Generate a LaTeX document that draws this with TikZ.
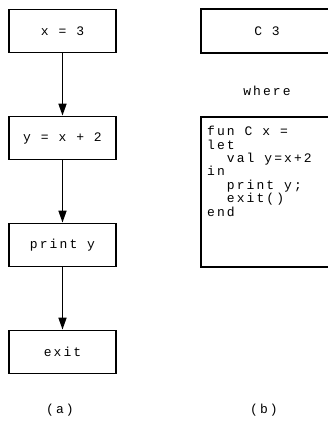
\documentclass[tikz,border=0pt]{standalone}
\usepackage{fontspec}
\setmonofont[LetterSpace=16]{Liberation Mono}
\usetikzlibrary{arrows.meta}
\begin{document}
\begin{tikzpicture}[x=1pt,y=-1pt,
  font=\ttfamily\fontsize{13}{13.4}\selectfont,
  box/.style={draw, line width=1.8pt, minimum width=107pt, minimum height=43pt, inner sep=0pt},
  wbox/.style={draw, line width=1.8pt, minimum width=131pt, inner sep=0pt},
  flow/.style={-{Triangle[length=12pt,width=8pt]}, line width=1.6pt}]
\useasboundingbox (0,0) rectangle (328,421);
\clip (0,0) rectangle (328,421);
\node[box] (a1) at (62.5,31) {x = 3};
\node[box] (a2) at (62.5,138) {y = x + 2};
\node[box] (a3) at (62.5,245) {print y};
\node[box] (a4) at (62.5,352) {exit};
\draw[flow] (a1) -- (a2);
\draw[flow] (a2) -- (a3);
\draw[flow] (a3) -- (a4);
\node (la) at (60,410) {(a)};
\node[wbox, minimum height=44pt] (b1) at (266.5,31) {};
\node (b1t) at (267,31) {C 3};
\node (wh) at (267,91) {where};
\node[wbox, minimum height=150pt] (b2) at (266.5,192) {};
\node[anchor=north west, align=left, inner sep=0pt] (code) at (207,126) {fun C x =\\let\\\ \ val y=x+2\\in\\\ \ print y;\\\ \ exit()\\end};
\node (lb) at (264,410) {(b)};
\end{tikzpicture}
\end{document}
